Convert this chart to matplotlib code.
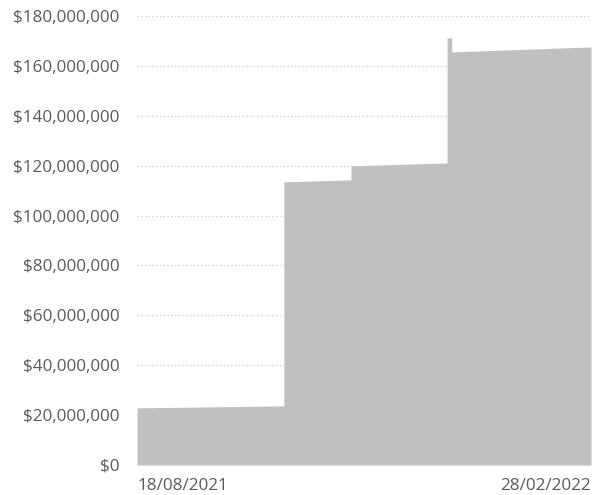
import matplotlib
matplotlib.use("Agg")
import matplotlib.pyplot as plt
import numpy as np
import pandas as pd

# points of the area outline (duplicate dates give the vertical steps)
dates = pd.to_datetime([
    "2021-08-18 00:00", "2021-10-19 18:00", "2021-10-19 18:00", "2021-11-17 10:00", "2021-11-17 10:00",
    "2021-12-28 12:00", "2021-12-28 12:00", "2021-12-30 12:00", "2021-12-30 12:00", "2022-02-28 00:00",
], format="%Y-%m-%d %H:%M")
values = np.array([22.9, 23.7, 113.5, 114.3, 119.9, 121.1, 171.2, 171.2, 165.6, 167.6]) * 1e6

yticks = np.arange(0, 180e6 + 1, 20e6)
xtick_dates = pd.to_datetime(["2021-08-18", "2022-02-28"])

plt.rcParams['font.family'] = ['Open Sans', 'DejaVu Sans']
text_color = '#5a5a64'

fig = plt.figure(figsize=(5.92, 4.95), dpi=100)
ax = fig.add_axes([137 / 592, 30 / 495, 454 / 592, 449 / 495])

ax.fill_between(dates, 0, values, color='#c0c0c0', linewidth=0, zorder=2)

ax.set_xlim(xtick_dates[0], xtick_dates[-1])
ax.set_ylim(0, 180e6)
ax.set_yticks(yticks)
ax.set_yticklabels(['${:,.0f}'.format(v) for v in yticks])
ax.grid(axis='y', linestyle=(0, (1, 2)), color='#cccccc', linewidth=0.9, zorder=1)

ax.set_xticks(xtick_dates)
ax.set_xticklabels([d.strftime('%d/%m/%Y') for d in xtick_dates])
labels = ax.get_xticklabels()
labels[0].set_ha('left')
labels[1].set_ha('right')

ax.tick_params(axis='both', length=0, colors=text_color, labelsize=12.3)
ax.tick_params(axis='y', pad=12.5)
ax.tick_params(axis='x', pad=9)
for s in ax.spines.values():
    s.set_visible(False)

fig.savefig('out.png', dpi=100)
